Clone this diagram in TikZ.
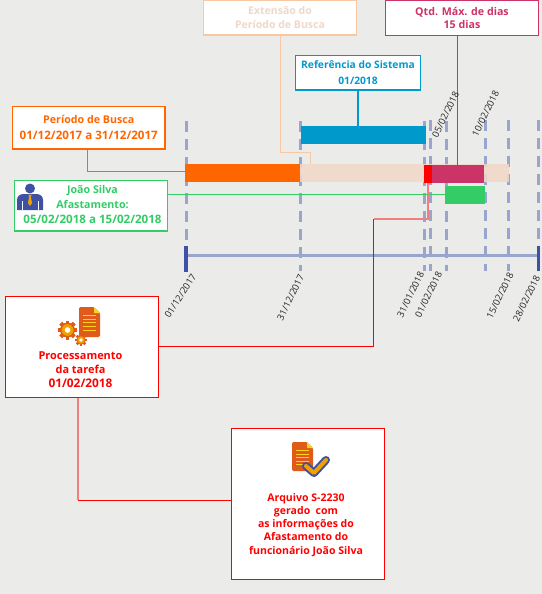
\documentclass[tikz,border=0pt]{standalone}
\usepackage{fontspec}
\setmainfont{Open Sans}
\usetikzlibrary{calc}
\definecolor{bgc}{HTML}{EBEBE9}
\definecolor{orangec}{HTML}{FF6600}
\definecolor{peachc}{HTML}{F0D8C8}
\definecolor{peachl}{HTML}{F8C8A4}
\definecolor{bluec}{HTML}{0099CC}
\definecolor{magc}{HTML}{CC3366}
\definecolor{greenc}{HTML}{33CC66}
\definecolor{redc}{HTML}{FF0000}
\definecolor{pinkc}{HTML}{F08080}
\definecolor{dashc}{HTML}{99A5CC}
\definecolor{darkb}{HTML}{3F51A3}
\definecolor{docc}{HTML}{E05A1A}
\definecolor{goldc}{HTML}{F0A000}
\definecolor{yelc}{HTML}{FFD21E}
\tikzset{
  x=0.75pt,y=-0.75pt,
  px/.style={line width=#1*0.75pt},
  lab/.style={draw,fill=white,px=1.2,inner sep=0pt,outer sep=0pt,align=center,font=\bfseries\fontsize{8}{12.2}\selectfont},
  boxat/.style args={#1/#2}{minimum width=#1*0.75pt,minimum height=#2*0.75pt},
  vdash/.style={dashc,px=3,dash pattern=on 8.25pt off 5.25pt},
  tick/.style={darkb,px=3.4},
  datel/.style={rotate=64,anchor=east,inner sep=0pt,font=\fontsize{7}{8}\selectfont,text=black!85},
  bar/.style={inner sep=0pt,outer sep=0pt,minimum width=#1*0.75pt},
}
\newcommand{\gearshape}[4]{% x,y,outer radius,teeth colour
  \fill[#4] (#1,#2) circle[radius=#3*0.78];
  \foreach \a in {0,45,...,315}{\fill[#4,rotate around={\a:(#1,#2)}] ($(#1,#2)+(-#3*0.2,-#3)$) rectangle ($(#1,#2)+(#3*0.2,#3)$);}
  \fill[goldc] (#1,#2) circle[radius=#3*0.62];
  \fill[white] (#1,#2) circle[radius=#3*0.3];
}
\begin{document}
\begin{tikzpicture}
\path[use as bounding box,fill=bgc] (0,0) rectangle (542,594);
% dashed verticals
\foreach \n/\x/\yo in {a/186/121,b/300.5/121,c/424.5/121,d/430.5/120,e/446.5/121,f/485.5/120,g/508.5/120}{
  \coordinate (t\n) at (\x,\yo);
  \coordinate (b\n) at (\x,271);
  \draw[vdash] (t\n) -- (b\n);
}
\coordinate (th) at (538.5,120); \coordinate (bh) at (538.5,246);
\draw[vdash] (th) -- (bh);
% bars
\node[bar=115,fill=orangec,minimum height=13.5pt,anchor=north west] (orangebar) at (185,164) {};
\node[bar=209,fill=peachc,fill opacity=.88,minimum height=13.5pt,anchor=north west] (peachbar) at (300,164) {};
\node[bar=125,fill=bluec,minimum height=13.5pt,anchor=north west] (bluebar) at (301,126) {};
\node[bar=8,fill=redc,minimum height=13.5pt,anchor=north west] (redbar) at (424,165) {};
\node[bar=52,fill=magc,minimum height=13.5pt,anchor=north west] (magbar) at (432,165) {};
\node[bar=40,fill=greenc,minimum height=13.5pt,anchor=north west] (greenbar) at (445,186) {};
% axis
\coordinate (axl) at (186,255.5); \coordinate (axr) at (538,255.5);
\draw[dashc,px=3] (axl) -- (axr);
\coordinate (t1) at (186,246); \coordinate (t2) at (186,272);
\coordinate (t3) at (538.5,246); \coordinate (t4) at (538.5,271);
\draw[tick] (t1) -- (t2);
\draw[tick] (t3) -- (t4);
% boxes
\node[lab,boxat=152.5/42.5,draw=orangec,text=orangec,anchor=north west] (busca) at (12.5,106.5) {Período de Busca\\\fontsize{8.7}{12.2}\selectfont 01/12/2017 a 31/12/2017};
\node[lab,boxat=153/35,draw=peachl,text=peachc,anchor=north west,font=\bfseries\fontsize{7.9}{9.9}\selectfont] (ext) at (203.5,0) {Extensão do\\Período de Busca};
\node[lab,boxat=125/34.5,draw=bluec,text=bluec,anchor=north west,font=\bfseries\fontsize{7.7}{12}\selectfont] (ref) at (295.5,55.5) {Referência do Sistema\\01/2018};
\node[lab,boxat=153/35,draw=magc,text=magc,anchor=north west,font=\bfseries\fontsize{8}{10.4}\selectfont] (qtd) at (385.5,0.5) {Qtd. Máx. de dias\\15 dias};
\node[lab,boxat=153/50.5,draw=greenc,text=greenc,anchor=north west] (joao) at (14.5,180.5) {};
\node[font=\bfseries\fontsize{8}{11.1}\selectfont,text=greenc,align=center,inner sep=0pt] (joaot) at (92.5,204.5) {João Silva\\Afastamento:\\\fontsize{8.7}{11.1}\selectfont 05/02/2018 a 15/02/2018};
\node[lab,boxat=153/101,draw=redc,anchor=north west] (proc) at (5.5,296.5) {};
\node[font=\bfseries\fontsize{8.2}{10.6}\selectfont,text=redc,align=center,inner sep=0pt] (proct) at (80.5,369.5) {Processamento\\da tarefa\\\fontsize{8.9}{10.6}\selectfont 01/02/2018};
\node[lab,boxat=153/151,draw=redc,anchor=north west] (arq) at (231.5,428.5) {};
\node[font=\bfseries\fontsize{7.9}{9.8}\selectfont,text=redc,align=center,inner sep=0pt] (arqt) at (306,525) {Arquivo S-2230\\gerado\ \ com\\as informações do\\Afastamento do\\funcionário João Silva};
% connectors
\coordinate (c1) at (87.5,171.5);
\draw[orangec,px=1.1] (87.5,149) |- (orangebar.west |- c1);
\coordinate (c2a) at (280.5,152.5); \coordinate (c2b) at (310.5,152.5);
\draw[peachl,px=1.1] (ext.south -| c2a) -- (c2a) -- (c2b) -- (c2b |- peachbar.north);
\draw[bluec,px=1.1] (ref.south) -- (bluebar.north -| ref.south);
\coordinate (c3) at (457.5,35);
\draw[magc,px=1.1] (c3 |- qtd.south) -- (c3 |- magbar.north);
\coordinate (c4) at (0,194.5);
\draw[greenc,px=1.1] (joao.east |- c4) -- (greenbar.west |- c4);
\coordinate (c5a) at (373.5,346.5); \coordinate (c5b) at (373.5,219); \coordinate (c5c) at (428,219); \coordinate (c5d) at (428,183);
\draw[redc,px=1.1] (proc.east |- c5a) -- (c5a) -- (c5b);
\draw[pinkc,px=1.6] (c5b) -- (c5c) -- (c5d);
\coordinate (c6a) at (78,500.3);
\draw[pinkc,px=2] (c6a |- proc.south) -- (c6a);
\draw[redc,px=1.1] (c6a) -- (c6a -| arq.west);
% dates
\node[datel,rotate=-7] (d1) at (194,275) {01/12/2017};
\node[datel] (d2) at (301.5,275) {31/12/2017};
\node[datel] (d3) at (421.5,272) {31/01/2018};
\node[datel] (d4) at (439.5,272) {01/02/2018};
\node[datel] (d5) at (511,273) {15/02/2018};
\node[datel] (d6) at (537.5,276) {28/02/2018};
\node[datel] (d7) at (456.5,92) {05/02/2018};
\node[datel] (d8) at (496.5,91) {10/02/2018};
% person icon
\fill[darkb] (30,188.5) circle[radius=5];
\fill[darkb] (17,210) -- (17,200) .. controls (17,196) and (20,194) .. (24,194) -- (36,194) .. controls (40,194) and (43,196) .. (43,200) -- (43,210) -- cycle;
\fill[white] (21.5,201) rectangle (22.5,210); \fill[white] (37.5,201) rectangle (38.5,210);
\fill[goldc] (28.5,194.5) -- (31.5,194.5) -- (31,197) -- (32,203) -- (30,206) -- (28,203) -- (29,197) -- cycle;
% processing icon
\fill[docc,rounded corners=1pt] (79,307) -- (94,307) -- (100,313) -- (100,337) -- (79,337) -- cycle;
\fill[yelc] (94,307) -- (100,313) -- (94,313) -- cycle;
\foreach \yy in {315,318.7,322.4,326.1,329.8}{\fill[yelc] (82.5,\yy) rectangle (96,\yy+1);}
\gearshape{67.5}{330}{9.5}{docc}
\gearshape{81}{340}{6}{docc}
% check-file icon
\fill[docc,rounded corners=1pt] (292,442) -- (307,442) -- (313,448) -- (313,471) -- (292,471) -- cycle;
\fill[yelc] (307,442) -- (313,448) -- (307,448) -- cycle;
\foreach \yy in {450,453.5,457,460.5,464}{\fill[yelc] (296,\yy) rectangle (309,\yy+1);}
\draw[darkb,px=8,line cap=round,line join=round] (306,466) -- (314,473) -- (326,460);
\draw[goldc,px=4,line cap=round,line join=round] (306,466) -- (314,473) -- (326,460);
\end{tikzpicture}
\end{document}
